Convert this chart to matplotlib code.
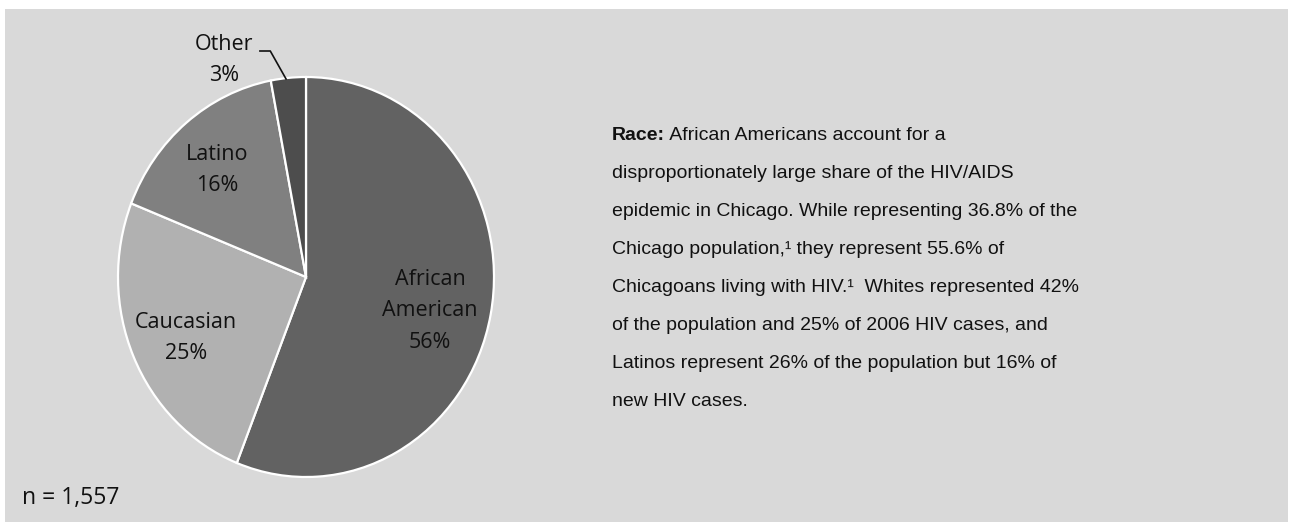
import matplotlib.pyplot as plt
import matplotlib.patches as mpatches

# --- data ---
groups = ["African\nAmerican", "Caucasian", "Latino", "Other"]
shares = [56, 25, 16, 3]
slice_colors = ["#626262", "#b1b1b1", "#808080", "#4d4d4d"]
sample_note = "n = 1,557"

body_lines = [
    "disproportionately large share of the HIV/AIDS",
    "epidemic in Chicago. While representing 36.8% of the",
    "Chicago population,\u00b9 they represent 55.6% of",
    "Chicagoans living with HIV.\u00b9  Whites represented 42%",
    "of the population and 25% of 2006 HIV cases, and",
    "Latinos represent 26% of the population but 16% of",
    "new HIV cases.",
]
lead_bold = "Race:"
lead_rest = " African Americans account for a"

W, H = 1291, 522
fig = plt.figure(figsize=(W / 100, H / 100), dpi=100)
fig.patch.set_facecolor("white")

# grey panel behind everything
fig.patches.append(mpatches.Rectangle((5 / W, 0), (1288 - 5) / W, (H - 9) / H,
                                      transform=fig.transFigure, facecolor="#d9d9d9",
                                      edgecolor="none", zorder=-5))

# pie axes (the original is slightly taller than wide)
cx, cy, rx, ry = 306, 277, 188, 200
ax = fig.add_axes([(cx - rx) / W, (H - cy - ry) / H, 2 * rx / W, 2 * ry / H])
ax.set_facecolor("none")
ax.set_zorder(2)
wedges, _ = ax.pie(shares, colors=slice_colors, startangle=90, counterclock=False,
                   wedgeprops=dict(edgecolor="white", linewidth=1.6))
ax.set_aspect("auto")
ax.set_xlim(-1, 1)
ax.set_ylim(-1, 1)
ax.axis("off")

label_font = dict(family=["Open Sans", "DejaVu Sans"], fontsize=15.5, color="#111111",
                  ha="center", va="center", linespacing=1.65)
label_pos = [(0.66, -0.17), (-0.64, -0.305), (-0.473, 0.535), (-0.436, 1.085)]
for name, val, (lx, ly) in zip(groups, shares, label_pos):
    ax.text(lx, ly, f"{name}\n{val}%", clip_on=False, **label_font)

# leader line for the small slice
ax.plot([-0.245, -0.19, -0.106], [1.13, 1.13, 0.99], color="#111111", lw=1.2, clip_on=False)

fig.text(22 / W, 1 - 504 / H, sample_note, family=["Open Sans", "DejaVu Sans"],
         fontsize=16.5, color="#111111", ha="left", va="baseline")

# description text
tx = 612 / W
font = ["Liberation Sans Narrow", "Liberation Sans", "DejaVu Sans"]
fs = 14
baselines = [140, 178, 216, 254, 292, 330, 368, 406]
t0 = fig.text(tx, 1 - baselines[0] / H, lead_bold, family=font, fontsize=fs,
              weight="bold", color="#111111", va="baseline")
fig.canvas.draw()
bb = t0.get_window_extent()
fig.text(bb.x1 / W, 1 - baselines[0] / H, lead_rest, family=font, fontsize=fs,
         color="#111111", va="baseline")
for line, b in zip(body_lines, baselines[1:]):
    fig.text(tx, 1 - b / H, line, family=font, fontsize=fs, color="#111111", va="baseline")

fig.savefig("out.png", dpi=100)
